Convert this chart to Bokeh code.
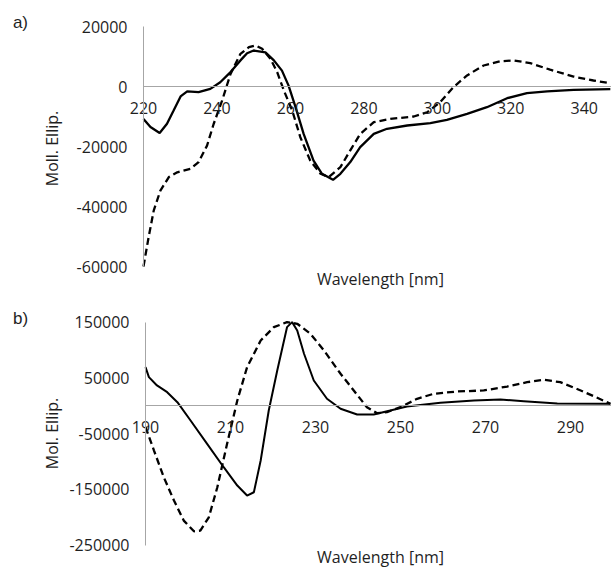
import math
from bokeh.plotting import figure
from bokeh.models import FixedTicker, Label, Range1d
from bokeh.layouts import column
from bokeh.embed import file_html
from bokeh.resources import INLINE

# ---------------- data: panel a ----------------
a_wl_solid = [220, 221.9, 224.4, 226.4, 228.2, 230.1, 231.9, 235.0, 238.2, 240.9, 243.7, 246.4,
              248.2, 250.0, 253.2, 255.5, 257.7, 259.5, 261.4, 263.6, 266.3, 268.6, 271.6, 273.6,
              276.3, 279.0, 282.7, 286.3, 291.8, 298.1, 302.6, 308.1, 313.5, 319.0, 324.4, 329.9,
              337.1, 347.1]
a_solid = [-10800, -13500, -15500, -12400, -8000, -3300, -1600, -1900, -800, 1400, 4800, 8700,
           11100, 12000, 11400, 8700, 5300, 300, -6900, -15800, -24700, -29100, -31100, -29100,
           -25200, -20200, -15800, -14100, -13000, -12200, -11100, -9100, -6900, -3900, -2200, -1600,
           -1100, -900]
a_wl_dashed = [220, 221.4, 222.8, 224.6, 226.9, 229.2, 232.8, 235.0, 237.3, 239.1, 241.4, 243.7,
               246.4, 248.7, 250.5, 252.3, 254.6, 256.4, 258.2, 260.5, 262.7, 265.4, 268.2, 270.4,
               273.6, 276.3, 279.0, 282.7, 287.2, 293.6, 297.2, 300.8, 304.4, 308.1, 312.6, 317.1,
               320.8, 325.3, 330.7, 337.1, 342.5, 347.1]
a_dashed = [-60000, -50200, -41300, -34700, -30200, -28600, -27400, -25200, -19700, -12500, -4700, 4200,
            10900, 13100, 13700, 12600, 9200, 4800, -1300, -8000, -16900, -24700, -29100, -30200,
            -26900, -21300, -15800, -11900, -10800, -10000, -8600, -5200, -200, 3700, 7000, 8400,
            8700, 7800, 5600, 3300, 2000, 1100]
a_xticks = [220, 240, 260, 280, 300, 320, 340]
a_yticks = [20000, 0, -20000, -40000, -60000]
a_ytick_labels = ["20000", "0", "-20000", "-40000", "-60000"]

# ---------------- data: panel b ----------------
b_wl_solid = [190, 190.8, 192.7, 195.1, 197.5, 200.6, 204.5, 208.4, 211.6, 213.9, 215.5, 217.1,
              219.0, 221.0, 223.3, 224.5, 225.7, 227.3, 229.6, 232.7, 235.9, 239.8, 243.7, 247.6,
              251.5, 259.4, 267.3, 273.5, 279.0, 286.9, 299.4]
b_solid = [69300, 51400, 36500, 24400, 6500, -26400, -68200, -110200, -143100, -161000, -155100, -98200,
           -8400, 63400, 141100, 150100, 135200, 93400, 45400, 12600, -5400, -15600, -15600, -8400,
           -1300, 5400, 9500, 11300, 8300, 4100, 3600]
b_wl_dashed = [190, 192.0, 194.3, 196.7, 199.0, 201.4, 202.9, 204.9, 206.9, 209.2, 211.6, 213.9,
               217.1, 220.2, 223.3, 225.7, 228.8, 232.0, 235.9, 239.0, 242.1, 244.5, 246.8, 250.0,
               253.9, 257.8, 263.3, 269.6, 275.1, 279.8, 283.7, 287.6, 292.4, 296.3, 299.4]
b_dashed = [-38000, -80300, -128200, -170000, -206000, -225100, -223900, -200000, -146100, -68200, 9500, 69300,
            117200, 141100, 150100, 147200, 129300, 99300, 57500, 27500, -2500, -13300, -11500, -2500,
            12600, 21500, 25700, 27500, 34600, 42400, 46700, 42400, 27500, 14400, 3600]
b_xticks = [190, 210, 230, 250, 270, 290]
b_yticks = [150000, 50000, -50000, -150000, -250000]
b_ytick_labels = ["150000", "50000", "-50000", "-150000", "-250000"]

FONT = "Open Sans"
TXT = "#1f1f1f"
AXC = "#a6a6a6"
FS = "16px"


def make_panel(width, height, xr, yr, xbounds, ybounds, xticks, yticks, ylabels):
    p = figure(width=width, height=height, x_range=Range1d(*xr), y_range=Range1d(*yr),
               output_backend="svg", toolbar_location=None,
               min_border_left=0, min_border_right=0, min_border_top=0,
               min_border_bottom=0)
    p.outline_line_color = None
    p.grid.visible = False
    p.background_fill_color = "white"
    p.border_fill_color = "white"
    # y axis at the left end of the data
    ya = p.yaxis[0]
    ya.fixed_location = xbounds[0]
    ya.bounds = ybounds
    ya.ticker = FixedTicker(ticks=yticks)
    ya.major_label_overrides = {t: s for t, s in zip(yticks, ylabels)}
    ya.major_tick_line_color = None
    ya.minor_tick_line_color = None
    ya.major_tick_in = 0
    ya.major_tick_out = 0
    ya.axis_line_color = AXC
    ya.axis_line_width = 1
    ya.major_label_standoff = 16
    ya.major_label_text_font = FONT
    ya.major_label_text_font_size = FS
    ya.major_label_text_color = TXT
    # x axis through zero
    xa = p.xaxis[0]
    xa.fixed_location = 0
    xa.bounds = xbounds
    xa.ticker = FixedTicker(ticks=xticks)
    xa.major_label_overrides = {t: str(t) for t in xticks}
    xa.major_tick_line_color = None
    xa.minor_tick_line_color = None
    xa.major_tick_in = 0
    xa.major_tick_out = 0
    xa.axis_line_color = AXC
    xa.axis_line_width = 1
    xa.major_label_standoff = 15
    xa.major_label_text_font = FONT
    xa.major_label_text_font_size = FS
    xa.major_label_text_color = TXT
    return p


def text(p, x, y, s, font=FONT, size=FS, angle=0.0):
    p.add_layout(Label(x=x, y=y, text=s, text_font=font, text_font_size=size,
                       text_align="center", text_baseline="middle", text_color=TXT,
                       angle=angle))


# panel a (page rows 0..300)
pa = make_panel(611, 300, (181.07, 347.42), (-71333, 28667), (220, 347.42), (-60000, 20000),
                a_xticks, a_yticks, a_ytick_labels)
pa.line(a_wl_solid, a_solid, line_color="black", line_width=2.3)
pa.line(a_wl_dashed, a_dashed, line_color="black", line_width=2.3, line_dash="7 4")
text(pa, 186.5, 21333, "a)", font="Liberation Sans", size="17px")
text(pa, 195.2, -20667, "Moll. Ellip.", angle=math.pi / 2)
text(pa, 284.5, -64000, "Wavelength [nm]")

# panel b (page rows 300..567)
pb = make_panel(611, 267, (155.88, 299.65), (-290133, 188937), (190, 299.65), (-250000, 150000),
                b_xticks, b_yticks, b_ytick_labels)
pb.line(b_wl_solid, b_solid, line_color="black", line_width=2.0)
pb.line(b_wl_dashed, b_dashed, line_color="black", line_width=2.3, line_dash="7 4")
text(pb, 160.6, 156640, "b)", font="Liberation Sans", size="17px")
text(pb, 168.1, -49700, "Mol. Ellip.", angle=math.pi / 2)
text(pb, 245.3, -272190, "Wavelength [nm]")

layout = column(pa, pb, spacing=0)
open("out.html", "w").write(file_html(layout, INLINE))
